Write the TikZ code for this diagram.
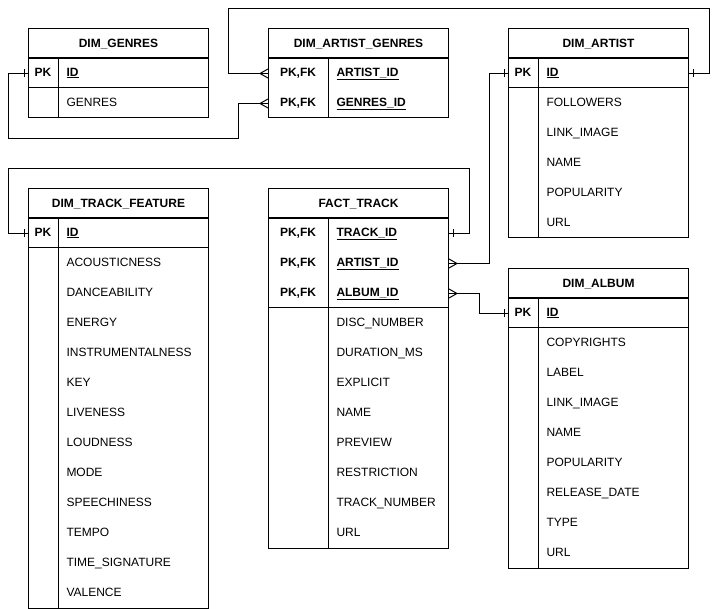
\documentclass[tikz,border=0pt]{standalone}
\usepackage{fontspec}
\setmainfont{Liberation Sans}
\begin{document}
\begin{tikzpicture}[x=1pt,y=-1pt,line width=1pt,
  every node/.style={font=\fontsize{12}{14}\selectfont},
  hdr/.style={draw, minimum width=180pt, minimum height=30pt, inner sep=0pt,
              text height=8.6pt, text depth=0pt,
              font=\fontsize{12}{14}\selectfont\bfseries},
  rowbox/.style={minimum width=180pt, minimum height=30pt, inner sep=0pt},
  celltxt/.style={inner sep=0pt, text height=8.6pt, text depth=0pt},
  keytxt/.style={celltxt, font=\fontsize{12}{14}\selectfont\bfseries},
  keyfld/.style={celltxt, anchor=west, font=\fontsize{12}{14}\selectfont\bfseries},
  fldtxt/.style={celltxt, anchor=west},
  link/.style={draw, line width=1pt}]

\useasboundingbox (0,0) rectangle (718,609);

% ---- table building helpers ----
\newcommand\pkfk{PK,FK}
\newcommand\tabhead[5]{% id, left, top, key column width, title
  \gdef\tabId{#1}\gdef\tabL{#2}\gdef\tabT{#3}\gdef\tabK{#4}\gdef\tabN{0}%
  \node[hdr, anchor=north west] (#1) at (#2,#3) {#5};}
\newcommand\nextrow{\pgfmathtruncatemacro\tabNn{\tabN+1}\xdef\tabN{\tabNn}}
\newcommand\keyrow[2]{% key, field
  \nextrow
  \node[rowbox, anchor=north west] (\tabId-\tabN) at (\tabL,\tabT+\tabN*30) {};
  \node[keytxt] (\tabId-\tabN-k) at (\tabL+\tabK/2,\tabT+\tabN*30+14) {#1};
  \node[keyfld] (\tabId-\tabN-f) at (\tabL+\tabK+8,\tabT+\tabN*30+14) {\underline{#2}};}
\newcommand\keyend{\draw (\tabL,\tabT+30+\tabN*30) -- ++(180,0);}
\newcommand\fieldrow[1]{%
  \nextrow
  \node[rowbox, anchor=north west] (\tabId-\tabN) at (\tabL,\tabT+\tabN*30) {};
  \node[fldtxt] (\tabId-\tabN-f) at (\tabL+\tabK+8,\tabT+\tabN*30+14) {#1};}
\newcommand\tabclose{%
  \draw (\tabL,\tabT+30) rectangle (\tabL+180,\tabT+30+\tabN*30);
  \draw (\tabL+\tabK,\tabT+30) -- (\tabL+\tabK,\tabT+30+\tabN*30);}
% cardinality marks
\newcommand\onebar[2]{\draw ([xshift=#2]#1) ++(0,-4) -- ++(0,8);}
\newcommand\crowfoot[2]{\draw ([yshift=4.5pt]#1) -- ([xshift=#2]#1) -- ([yshift=-4.5pt]#1);}

% ---- DIM_GENRES ----
\tabhead{g}{28}{28}{30}{DIM\_GENRES}
\keyrow{PK}{ID}
\keyend
\fieldrow{GENRES}
\tabclose

% ---- DIM_ARTIST_GENRES ----
\tabhead{ag}{268}{28}{60}{DIM\_ARTIST\_GENRES}
\keyrow{\pkfk}{ARTIST\_ID}
\keyrow{\pkfk}{GENRES\_ID}
\tabclose

% ---- DIM_ARTIST ----
\tabhead{a}{508}{28}{30}{DIM\_ARTIST}
\keyrow{PK}{ID}
\keyend
\fieldrow{FOLLOWERS}
\fieldrow{LINK\_IMAGE}
\fieldrow{NAME}
\fieldrow{POPULARITY}
\fieldrow{URL}
\tabclose

% ---- DIM_TRACK_FEATURE ----
\tabhead{tf}{28}{188}{30}{DIM\_TRACK\_FEATURE}
\keyrow{PK}{ID}
\keyend
\fieldrow{ACOUSTICNESS}
\fieldrow{DANCEABILITY}
\fieldrow{ENERGY}
\fieldrow{INSTRUMENTALNESS}
\fieldrow{KEY}
\fieldrow{LIVENESS}
\fieldrow{LOUDNESS}
\fieldrow{MODE}
\fieldrow{SPEECHINESS}
\fieldrow{TEMPO}
\fieldrow{TIME\_SIGNATURE}
\fieldrow{VALENCE}
\tabclose

% ---- FACT_TRACK ----
\tabhead{ft}{268}{188}{60}{FACT\_TRACK}
\keyrow{\pkfk}{TRACK\_ID}
\keyrow{\pkfk}{ARTIST\_ID}
\keyrow{\pkfk}{ALBUM\_ID}
\keyend
\fieldrow{DISC\_NUMBER}
\fieldrow{DURATION\_MS}
\fieldrow{EXPLICIT}
\fieldrow{NAME}
\fieldrow{PREVIEW}
\fieldrow{RESTRICTION}
\fieldrow{TRACK\_NUMBER}
\fieldrow{URL}
\tabclose

% ---- DIM_ALBUM ----
\tabhead{al}{508}{268}{30}{DIM\_ALBUM}
\keyrow{PK}{ID}
\keyend
\fieldrow{COPYRIGHTS}
\fieldrow{LABEL}
\fieldrow{LINK\_IMAGE}
\fieldrow{NAME}
\fieldrow{POPULARITY}
\fieldrow{RELEASE\_DATE}
\fieldrow{TYPE}
\fieldrow{URL}
\tabclose

% ---- relationships ----
% artist_genres.genres_id -> genres.id
\draw[link] (ag-2.west) -- ++(-30,0) -- ++(0,35) -| ([xshift=-20pt]g-1.west) -- (g-1.west);
\crowfoot{ag-2.west}{-8pt}
\onebar{g-1.west}{-4pt}

% artist_genres.artist_id -> artist.id
\draw[link] (ag-1.west) -- ++(-40,0) -- ++(0,-65) -| ([xshift=20pt]a-1.east) -- (a-1.east);
\crowfoot{ag-1.west}{-8pt}
\onebar{a-1.east}{4pt}

% fact_track.track_id -> track_feature.id
\draw[link] (ft-1.east) -- ++(20,0) -- ++(0,-65) -| ([xshift=-20pt]tf-1.west) -- (tf-1.west);
\onebar{ft-1.east}{4pt}
\onebar{tf-1.west}{-4pt}

% fact_track.artist_id -> artist.id
\draw[link] (ft-2.east) -- ++(40,0) |- (a-1.west);
\crowfoot{ft-2.east}{8pt}
\onebar{a-1.west}{-4pt}

% fact_track.album_id -> album.id
\draw[link] (ft-3.east) -- ++(30,0) |- (al-1.west);
\crowfoot{ft-3.east}{8pt}
\onebar{al-1.west}{-4pt}

\end{tikzpicture}
\end{document}
